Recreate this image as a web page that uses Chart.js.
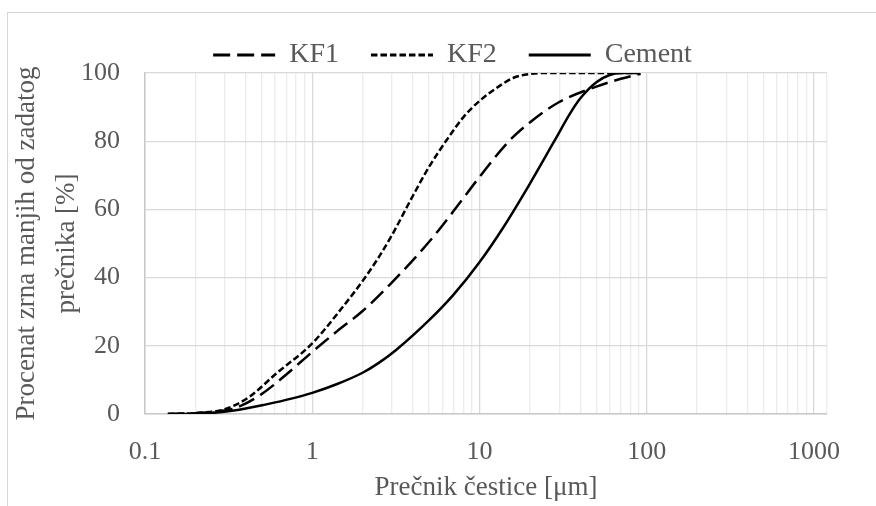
<!DOCTYPE html>
<html>
<head>
<meta charset="utf-8">
<script src="https://cdn.jsdelivr.net/npm/chart.js@4.4.1/dist/chart.umd.min.js"></script>
<style>
  html, body { margin: 0; padding: 0; background: #ffffff; overflow: hidden; width: 876px; height: 506px; }
  #frame { position: absolute; left: 7px; top: 12px; width: 1000px; height: 1000px; border: 1px solid #d6d6d6; }
  #c { position: absolute; left: 0; top: 0; }
</style>
</head>
<body>
<div id="frame"></div>
<canvas id="c" width="876" height="506"></canvas>
<script>
// ---- data ----
const seriesNames = ['KF1', 'KF2', 'Cement'];

const kf1X = [0.137, 0.2, 0.27, 0.34, 0.49, 0.7, 1.0, 1.41, 2.0, 3.0, 5.0, 7.0, 10, 15, 20, 30, 50, 70, 92];
const kf1Y = [0, 0.2, 0.8, 1.6, 5.6, 11.6, 18.2, 24.3, 30.2, 38.6, 50.5, 59.5, 69.5, 80, 85.5, 91.5, 96, 98.3, 99.8];

const kf2X = [0.137, 0.2, 0.3, 0.42, 0.61, 1.0, 1.5, 2.0, 2.5, 3.0, 4.0, 5.0, 6.4, 8.0, 10, 13, 16, 20, 25, 50, 90];
const kf2Y = [0, 0.3, 1.4, 5.0, 11.9, 20.7, 31.0, 39.0, 46, 52.5, 64, 72.5, 80.5, 87, 91.8, 96, 98.6, 99.7, 100, 100, 100];

const cemX = [0.137, 0.21, 0.34, 0.54, 0.75, 1.0, 1.41, 2.0, 2.5, 3.16, 5.0, 7.0, 10, 14, 20, 28, 35, 40, 50, 60, 70, 90];
const cemY = [0, 0.1, 1.0, 2.9, 4.5, 6.2, 8.8, 12.1, 15.0, 18.7, 27.5, 35, 44.5, 55, 67.5, 80, 88.3, 92.5, 97.3, 99.4, 100, 100];

const xTickValues = [0.1,0.2,0.3,0.4,0.5,0.6,0.7,0.8,0.9,
                     1,2,3,4,5,6,7,8,9,
                     10,20,30,40,50,60,70,80,90,
                     100,200,300,400,500,600,700,800,900,
                     1000];
const xMajorValues = [0.1, 1, 10, 100, 1000];
const xTickLabels = ['0.1', '1', '10', '100', '1000'];
const xMin = 0.1, xMax = 1197;
const yMin = 0, yMax = 100, yStep = 20;

const xTitle = 'Prečnik čestice [μm]';
const yTitle = ['Procenat zrna manjih od zadatog', 'prečnika [%]'];

// ---- build ----
function pts(xs, ys) { return xs.map((x, i) => ({ x: x, y: ys[i] })); }

const textColor = '#595959';
const fontFam = '"Liberation Serif", "Times New Roman", serif';

function isMajor(v) { return xMajorValues.some(m => Math.abs(m - v) / m < 1e-6); }

const legendShift = {
  id: 'legendShift',
  afterLayout(chart) {
    const l = chart.legend;
    if (!l) return;
    l.left += 39; l.right += 39;
    l.top += 6; l.bottom += 6;
  }
};

new Chart(document.getElementById('c'), {
  type: 'line',
  data: {
    datasets: [
      { label: seriesNames[0], data: pts(kf1X, kf1Y), borderColor: '#000', backgroundColor: '#000',
        borderWidth: 2.5, borderDash: [17, 7], pointRadius: 0, cubicInterpolationMode: 'monotone' },
      { label: seriesNames[1], data: pts(kf2X, kf2Y), borderColor: '#000', backgroundColor: '#000',
        borderWidth: 2.5, borderDash: [6.5, 3], pointRadius: 0, cubicInterpolationMode: 'monotone' },
      { label: seriesNames[2], data: pts(cemX, cemY), borderColor: '#000', backgroundColor: '#000',
        borderWidth: 2.5, pointRadius: 0, cubicInterpolationMode: 'monotone' }
    ]
  },
  options: {
    responsive: false,
    devicePixelRatio: 1,
    animation: false,
    layout: { padding: { top: 3, right: 49, bottom: 0, left: 0 } },
    plugins: {
      legend: {
        position: 'top',
        align: 'center',
        labels: {
          usePointStyle: true,
          pointStyle: 'line',
          pointStyleWidth: 62,
          padding: 32,
          color: textColor,
          font: { family: fontFam, size: 28 },
          generateLabels(chart) {
            const items = Chart.defaults.plugins.legend.labels.generateLabels(chart);
            return items.map(it => {
              const ds = chart.data.datasets[it.datasetIndex];
              it.lineDash = ds.borderDash || [];
              it.lineWidth = 3;
              it.strokeStyle = '#000';
              it.fillStyle = '#000';
              it.pointStyle = 'line';
              it.fontColor = textColor;
              return it;
            });
          }
        }
      },
      tooltip: { enabled: false }
    },
    scales: {
      x: {
        type: 'logarithmic',
        min: xMin,
        max: xMax,
        afterBuildTicks(scale) {
          scale.ticks = xTickValues.concat([xMax]).map(v => ({ value: v }));
        },
        afterFit(scale) { scale.height = 92; },
        grid: {
          drawTicks: false,
          color: (ctx) => (ctx.tick && isMajor(ctx.tick.value)) ? '#d9d9d9' : '#ececec',
          lineWidth: 1.3
        },
        border: { color: '#c9c9c9', width: 1.5 },
        ticks: {
          autoSkip: false,
          maxRotation: 0,
          minRotation: 0,
          padding: 23,
          color: textColor,
          font: { family: fontFam, size: 26 },
          callback(value) {
            const i = xMajorValues.findIndex(m => Math.abs(m - value) / m < 1e-6);
            return i >= 0 ? xTickLabels[i] : '';
          }
        },
        title: {
          display: true,
          text: xTitle,
          color: textColor,
          font: { family: fontFam, size: 27 },
          padding: { top: 0, bottom: 2 }
        }
      },
      y: {
        type: 'linear',
        min: yMin,
        max: yMax,
        afterFit(scale) { scale.width = 145; },
        grid: { drawTicks: false, color: '#d9d9d9', lineWidth: 1.3 },
        border: { color: '#c9c9c9', width: 1.5 },
        ticks: {
          stepSize: yStep,
          padding: 25,
          color: textColor,
          font: { family: fontFam, size: 26 }
        },
        title: {
          display: true,
          text: yTitle,
          color: textColor,
          font: { family: fontFam, size: 27, lineHeight: '40px' },
          padding: { top: 7, bottom: 0 }
        }
      }
    }
  },
  plugins: [legendShift]
});
</script>
</body>
</html>
